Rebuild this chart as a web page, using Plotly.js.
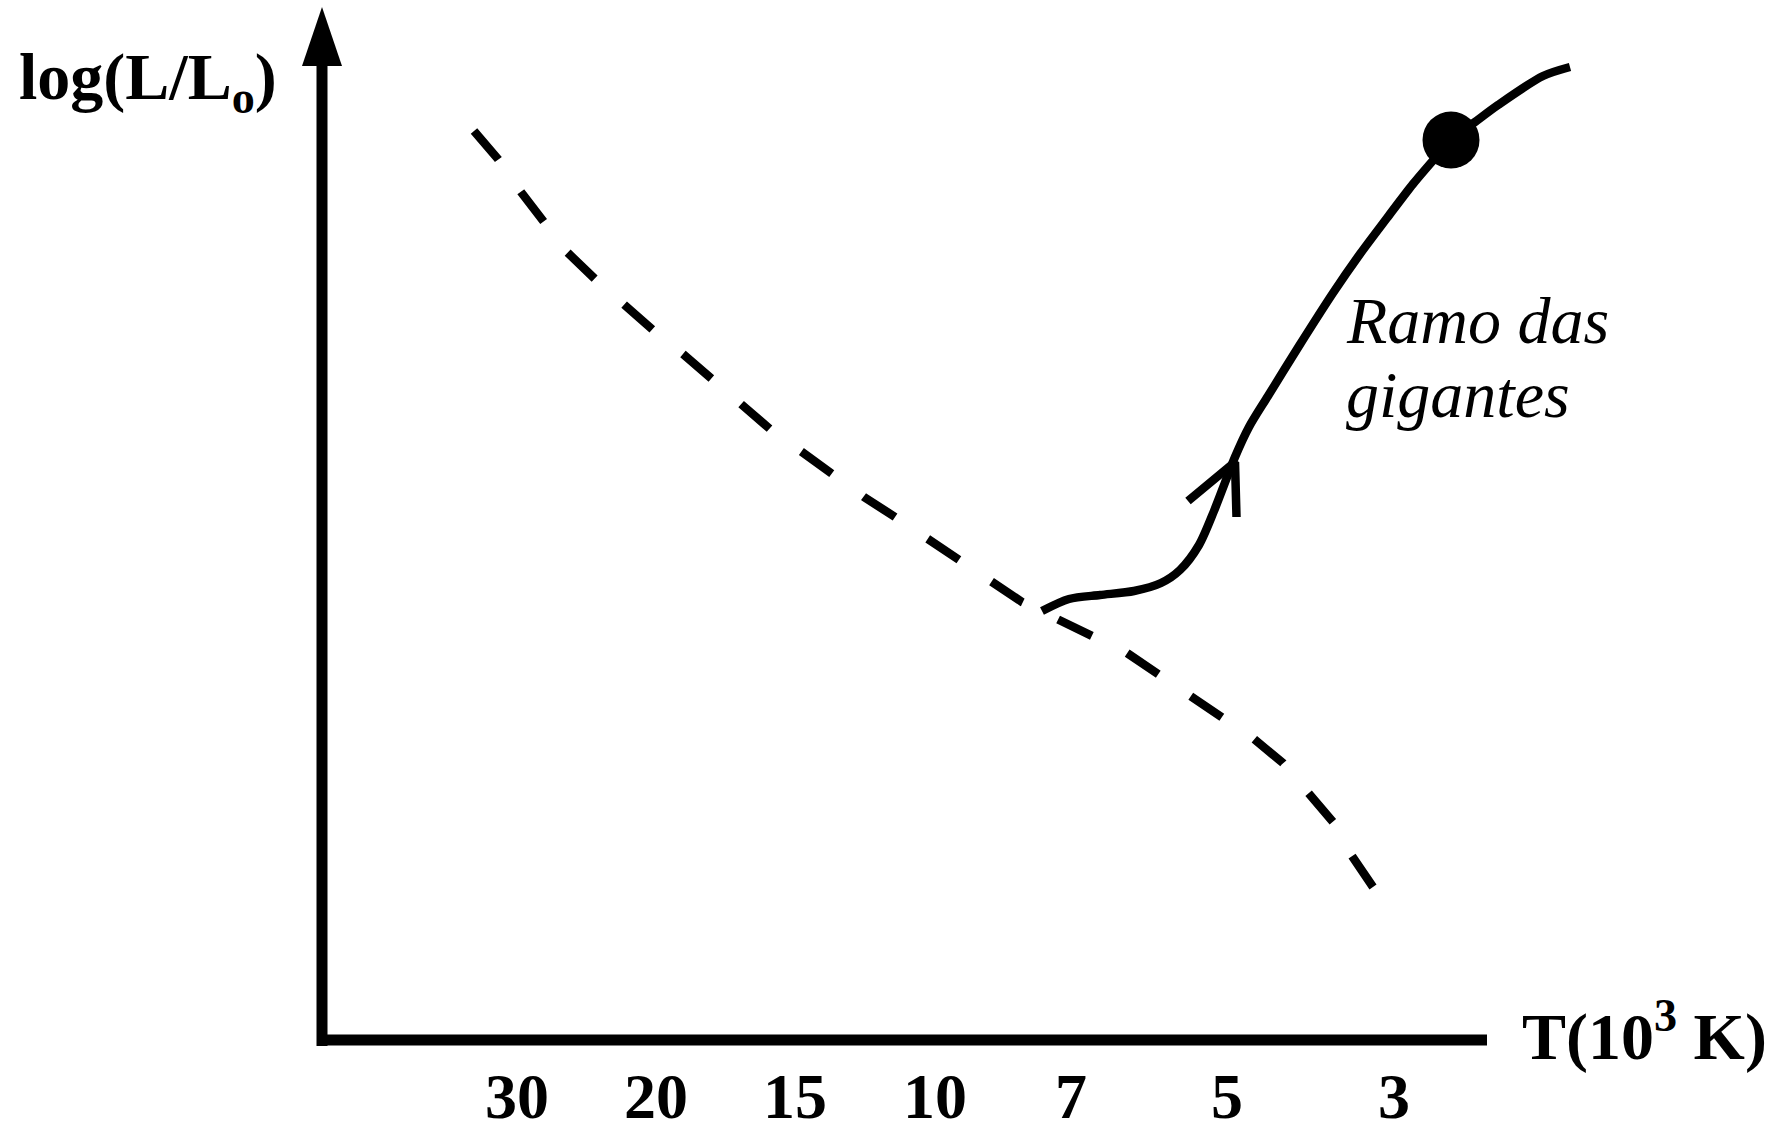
<!DOCTYPE html>
<html>
<head>
<meta charset="utf-8">
<script src="https://cdn.plot.ly/plotly-3.0.1.min.js"></script>
<style>html,body{margin:0;padding:0;background:#fff;}#chart{width:1786px;height:1135px;}</style>
</head>
<body>
<div id="chart"></div>
<script>
// Temperature tick labels (10^3 K) and their positions on the horizontal axis
const tickLabels = ['30', '20', '15', '10', '7', '5', '3'];
const tickPos = [1.95, 3.34, 4.73, 6.13, 7.49, 9.05, 10.72];

// Main sequence (dashed)
const mainSeqX = [1.52, 1.76, 1.99, 2.21, 2.45, 2.73, 3.02, 3.31, 3.61, 3.90, 4.19, 4.48, 4.80, 5.10, 5.42, 5.73,
                  6.06, 6.37, 6.70, 7.00, 7.35, 7.70, 8.05, 8.36, 8.70, 9.01, 9.32, 9.61, 9.87, 10.11, 10.30, 10.51];
const mainSeqY = [9.09, 8.81, 8.48, 8.18, 7.88, 7.61, 7.35, 7.10, 6.86, 6.61, 6.35, 6.11, 5.88, 5.65, 5.43, 5.23,
                  5.01, 4.81, 4.58, 4.38, 4.21, 4.05, 3.87, 3.66, 3.43, 3.24, 3.01, 2.77, 2.47, 2.18, 1.84, 1.53];

// Evolutionary track towards the giant branch (solid)
const trackX = [7.20, 7.47, 7.78, 8.12, 8.39, 8.58, 8.77, 8.92, 9.04, 9.13, 9.27, 9.46, 9.77, 10.11, 10.38, 10.65, 10.91, 11.14, 11.29, 11.53, 11.76, 12.21, 12.48];
const trackY = [4.29, 4.41, 4.45, 4.49, 4.57, 4.70, 4.95, 5.29, 5.60, 5.83, 6.13, 6.44, 6.94, 7.47, 7.86, 8.22, 8.56, 8.83, 9.00, 9.18, 9.35, 9.64, 9.73];

// Arrow head on the track
const arrowX = [8.66, 9.13, 9.145];
const arrowY = [5.39, 5.78, 5.23];

// Star position (filled dot)
const starX = [11.29];
const starY = [9.00];

const FONT = 'Liberation Serif, Times New Roman, serif';

const traces = [
  {x: mainSeqX, y: mainSeqY, mode: 'lines', line: {color: '#000', width: 8.5, dash: '37.5px,39.3px', shape: 'linear'}, hoverinfo: 'skip'},
  {x: trackX, y: trackY, mode: 'lines', line: {color: '#000', width: 8.5, shape: 'spline', smoothing: 0.8}, hoverinfo: 'skip'},
  {x: arrowX, y: arrowY, mode: 'lines', line: {color: '#000', width: 8.5}, hoverinfo: 'skip'},
  {x: starX, y: starY, mode: 'markers', marker: {color: '#000', size: 57, line: {width: 0}}, hoverinfo: 'skip'}
];

const layout = {
  width: 1786, height: 1135,
  margin: {l: 0, r: 0, t: 0, b: 0},
  paper_bgcolor: '#fff', plot_bgcolor: '#fff',
  showlegend: false,
  xaxis: {
    range: [-3.22, 14.64], showgrid: false, zeroline: false, showline: false,
    anchor: 'free', position: 95 / 1135,
    tickvals: tickPos, ticktext: tickLabels, ticks: '',
    ticklabelstandoff: 13,
    tickfont: {family: FONT, size: 64, weight: 'bold', color: '#000'}
  },
  yaxis: {range: [-0.95, 10.40], visible: false},
  shapes: [
    {type: 'line', xref: 'x', yref: 'y', x0: 0, x1: 0, y0: -0.06, y1: 9.8, line: {color: '#000', width: 11}},
    {type: 'line', xref: 'x', yref: 'y', x0: -0.05, x1: 11.65, y0: 0, y1: 0, line: {color: '#000', width: 11}},
    {type: 'path', xref: 'x', yref: 'y', path: 'M -0.2 9.74 L 0 10.33 L 0.2 9.74 Z', fillcolor: '#000', line: {color: '#000', width: 0}}
  ],
  annotations: [
    {xref: 'x', yref: 'y', x: -3.05, y: 9.59, xanchor: 'left', yanchor: 'middle', showarrow: false,
     text: 'log(L/L<sub>o</sub>)', font: {family: FONT, size: 66, weight: 'bold', color: '#000'}},
    {xref: 'x', yref: 'y', x: 11.98, y: 0.085, xanchor: 'left', yanchor: 'middle', showarrow: false,
     text: 'T(10<sup>3</sup> K)', font: {family: FONT, size: 66, weight: 'bold', color: '#000'}},
    {xref: 'x', yref: 'y', x: 10.22, y: 7.20, xanchor: 'left', yanchor: 'middle', showarrow: false,
     text: 'Ramo das', font: {family: FONT, size: 66, style: 'italic', color: '#000'}},
    {xref: 'x', yref: 'y', x: 10.22, y: 6.455, xanchor: 'left', yanchor: 'middle', showarrow: false,
     text: 'gigantes', font: {family: FONT, size: 66, style: 'italic', color: '#000'}}
  ]
};

Plotly.newPlot('chart', traces, layout, {staticPlot: true, displayModeBar: false});
</script>
</body>
</html>
